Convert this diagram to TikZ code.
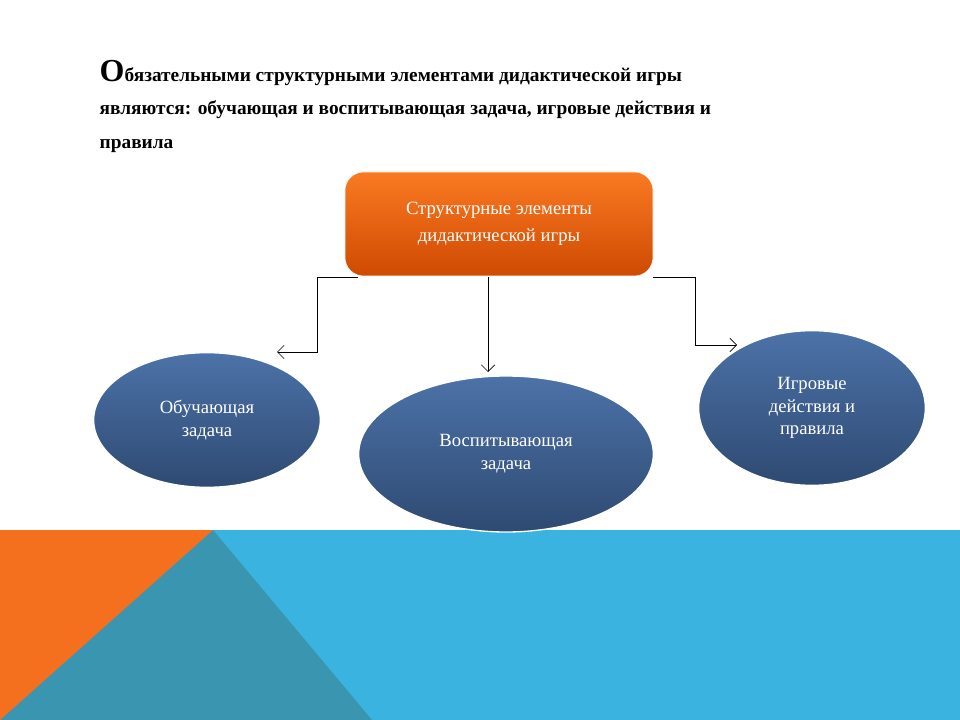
\documentclass[tikz,border=0pt]{standalone}
\usepackage{fontspec}
\setmainfont{Liberation Serif}
\usetikzlibrary{arrows.meta,shapes.geometric}
\definecolor{org}{HTML}{F5701E}
\definecolor{teal}{HTML}{3A95B0}
\definecolor{sky}{HTML}{3BB3E0}
\definecolor{blue1}{HTML}{4C72A8}
\definecolor{blue2}{HTML}{2E4A72}
\definecolor{or1}{HTML}{FA7A22}
\definecolor{or2}{HTML}{CF4A02}
\tikzset{
  oval/.style={ellipse, draw=white, line width=1pt, top color=blue1, bottom color=blue2, text=white, font=\fontsize{14}{17}\selectfont, align=center, inner sep=0pt},
  conn/.style={draw=black, line width=0.5pt, -{Straight Barb[length=5pt,width=10pt]}},
}
\begin{document}
\begin{tikzpicture}[x=0.75pt,y=-0.75pt]
\useasboundingbox (0,0) rectangle (960,720);
\fill[white] (0,0) rectangle (960,720);
\fill[sky] (0,530) rectangle (960,720);
\fill[teal] (0,530) -- (213,530) -- (372,720) -- (0,720) -- cycle;
\fill[org] (0,530) -- (213,530) -- (0,720) -- cycle;
\node[anchor=base west, font=\bfseries\fontsize{14.5}{18}\selectfont, align=left] (title) at (95,82)
  {{\fontsize{24}{18}\selectfont О}бязательными структурными элементами дидактической игры};
\node[anchor=base west, font=\bfseries\fontsize{14.5}{18}\selectfont] (t2) at (95,115)
  {являются: обучающая и воспитывающая задача, игровые действия и};
\node[anchor=base west, font=\bfseries\fontsize{14.5}{18}\selectfont] (t3) at (95,149) {правила};
\node[rounded corners=14pt, minimum width=231pt, minimum height=78pt, top color=or1, bottom color=or2, draw=white, text=white, font=\fontsize{14}{20}\selectfont, align=center] (top) at (499,224)
  {Структурные элементы\\дидактической игры};
\node[oval, minimum width=170pt, minimum height=101pt] (e1) at (207,420) {Обучающая\\задача};
\node[oval, minimum width=221pt, minimum height=117pt] (e2) at (506,454) {Воспитывающая\\задача};
\node[oval, minimum width=170pt, minimum height=116pt] (e3) at (812,408) {Игровые\\действия и\\правила};
\coordinate (l1) at (358,277);
\coordinate (l2) at (277,352);
\coordinate (r1) at (653,277);
\coordinate (r2) at (737,345);
\coordinate (m1) at (488,277);
\coordinate (m2) at (488,372);
\draw[conn] (l1) -- (317,277) -- (317,352) -- (l2);
\draw[conn] (m1) -- (m2);
\draw[conn] (r1) -- (695,277) -- (695,345) -- (r2);
\end{tikzpicture}
\end{document}
